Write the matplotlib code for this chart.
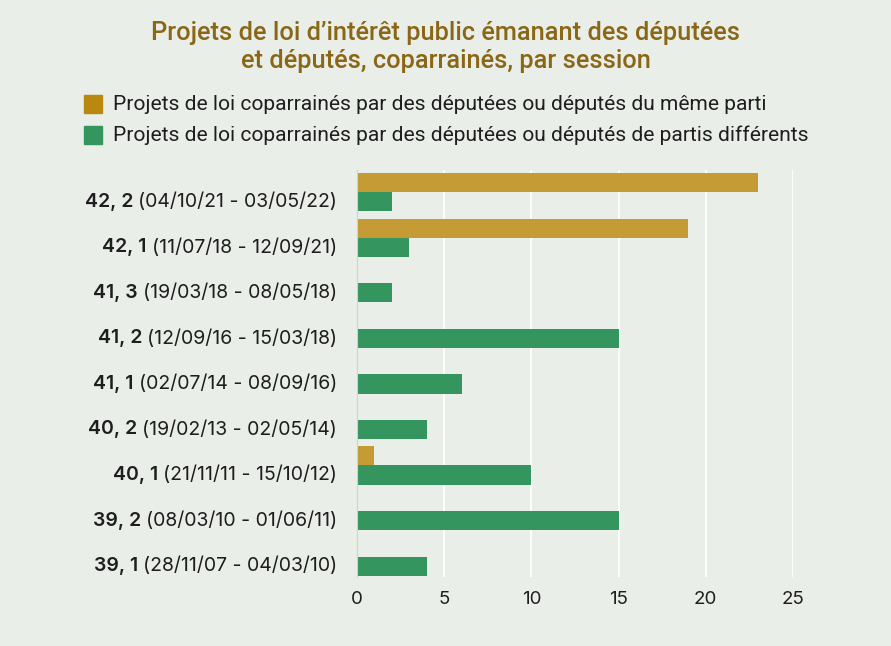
import matplotlib
matplotlib.use("Agg")
import matplotlib.pyplot as plt
import numpy as np

# sessions from bottom to top
sessions = ["39, 1", "39, 2", "40, 1", "40, 2", "41, 1", "41, 2", "41, 3", "42, 1", "42, 2"]
dates = ["(28/11/07 - 04/03/10)", "(08/03/10 - 01/06/11)", "(21/11/11 - 15/10/12)",
         "(19/02/13 - 02/05/14)", "(02/07/14 - 08/09/16)", "(12/09/16 - 15/03/18)",
         "(19/03/18 - 08/05/18)", "(11/07/18 - 12/09/21)", "(04/10/21 - 03/05/22)"]
meme_parti = [0, 0, 1, 0, 0, 0, 0, 19, 23]
partis_differents = [4, 15, 10, 4, 6, 15, 2, 3, 2]
x_ticks = [0, 5, 10, 15, 20, 25]

title = "Projets de loi d\u2019intérêt public émanant des députées\net députés, coparrainés, par session"
legend_labels = ["Projets de loi coparrainés par des députées ou députés du même parti",
                 "Projets de loi coparrainés par des députées ou députés de partis différents"]

BG = "#eaeee8"
GOLD = "#c59b35"
GOLD_SW = "#b8880f"
GREEN = "#35955f"
TITLE_C = "#8a6716"
TXT = "#1e1e1e"
HEAD = ["Roboto", "DejaVu Sans"]

fig = plt.figure(figsize=(8.91, 6.46), dpi=100, facecolor=BG)
ax = fig.add_axes([357 / 891, 1 - 577 / 646, (793 - 357) / 891, (577 - 170) / 646])
ax.set_facecolor(BG)

y = np.arange(len(sessions))
h = 0.42
ax.barh(y + h, meme_parti, height=h, color=GOLD, zorder=3)
ax.barh(y, partis_differents, height=h, color=GREEN, zorder=3)

ax.set_xlim(0, 25)
ax.set_ylim(-0.24, 8.70)
ax.set_xticks(x_ticks)
ax.set_xticklabels([str(t) for t in x_ticks], fontsize=13.5, family="Inter", color=TXT)
ax.tick_params(axis="x", length=0, pad=10)
ax.set_yticks(y)
ax.set_yticklabels([])
ax.tick_params(axis="y", length=0)
ax.grid(axis="x", color="white", linewidth=1.3, zorder=0)
for s in ["top", "right", "bottom"]:
    ax.spines[s].set_visible(False)
ax.spines["left"].set_color("#cfd3cd")
ax.spines["left"].set_zorder(4)

# y labels: bold session + regular dates
fig.canvas.draw()
r = fig.canvas.get_renderer()
for yi, s, d in zip(y, sessions, dates):
    t = ax.annotate(d, xy=(0, yi), xycoords=("axes fraction", "data"), xytext=(-20, 0),
                    textcoords="offset pixels", ha="right", va="center",
                    fontsize=14, family="Inter", color=TXT)
    wd = t.get_window_extent(r).width
    ax.annotate(s, xy=(0, yi), xycoords=("axes fraction", "data"), xytext=(-20 - wd - 5, 0),
                textcoords="offset pixels", ha="right", va="center",
                fontsize=14, family="Inter", fontweight="semibold", color=TXT)

fig.text(0.5, 1 - 47 / 646, title, ha="center", va="center", fontsize=18.3,
         family=HEAD, fontweight="medium", color=TITLE_C, linespacing=1.2)

for i, (lab, c) in enumerate(zip(legend_labels, [GOLD_SW, GREEN])):
    yy = 1 - (104 + 31 * i) / 646
    fig.patches.append(plt.Rectangle((84 / 891, yy - 9 / 646), 18 / 891, 18 / 646,
                                     transform=fig.transFigure, color=c, figure=fig))
    fig.text(113 / 891, yy, lab, ha="left", va="center", fontsize=15.1,
             family=HEAD, color=TXT)

fig.savefig("out.png", dpi=100, facecolor=BG)
